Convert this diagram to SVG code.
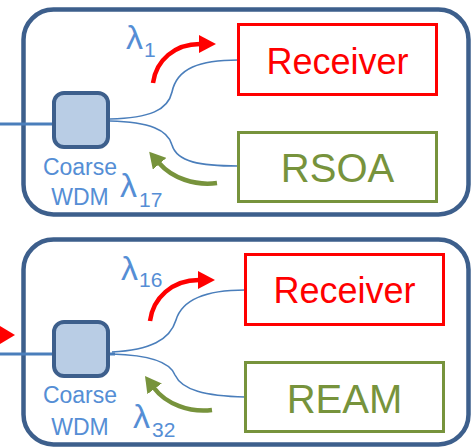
<svg xmlns="http://www.w3.org/2000/svg" width="472" height="448" viewBox="0 0 472 448">
  <style>
    .unit { fill: none; stroke: #3d5f8c; stroke-width: 4.5; }
    .wdm { fill: #b9cde5; stroke: #3d5f8c; stroke-width: 4; }
    .rx { fill: #ffffff; stroke: #ff0000; stroke-width: 3; }
    .tx { fill: #ffffff; stroke: #77933c; stroke-width: 3; }
    .fiber { fill: none; stroke: #4a7ebb; stroke-width: 1.6; }
    .trunk { fill: none; stroke: #4a7ebb; stroke-width: 3; }
    .down { fill: none; stroke: #ff0000; stroke-width: 4.5; marker-end: url(#headRed); }
    .up { fill: none; stroke: #77933c; stroke-width: 4.5; marker-end: url(#headGreen); }
    .lbl { font-family: "Liberation Sans", Arial, sans-serif; fill: #558ed5; }
    .wl { font-size: 34px; }
    .sub { font-size: 21px; }
    .name { font-size: 23px; text-anchor: middle; }
    .rxt { font-family: "Liberation Sans", Arial, sans-serif; font-size: 36px; fill: #ff0000; text-anchor: middle; }
    .txt { font-family: "Liberation Sans", Arial, sans-serif; font-size: 40px; fill: #77933c; text-anchor: middle; }
  </style>
  <defs>
    <marker id="headRed" markerUnits="userSpaceOnUse" markerWidth="18" markerHeight="18" viewBox="0 0 18 18" refX="1" refY="9" orient="auto">
      <path d="M0,0 L17,9 L0,18 z" fill="#ff0000"/>
    </marker>
    <marker id="headGreen" markerUnits="userSpaceOnUse" markerWidth="18" markerHeight="18" viewBox="0 0 18 18" refX="1" refY="9" orient="auto">
      <path d="M0,0 L16,9 L0,18 z" fill="#77933c"/>
    </marker>
  </defs>

  <!-- enclosures -->
  <rect id="unit-top" class="unit" x="23.5" y="9.5" width="445" height="205" rx="30"/>
  <rect id="unit-bottom" class="unit" x="23.5" y="239.5" width="445" height="205" rx="30"/>

  <!-- fibers and wavelength arrows -->
  <g id="connectors">
    <path class="trunk" d="M0,124 L54,124"/>
    <path class="trunk" d="M0,354 L115,354"/>
    <polygon points="0,326 15,335 0,344" fill="#ff0000"/>

    <path class="fiber" d="M110,119 C150,118 168,110 172,92 C177,68 200,60 238,60"/>
    <path class="fiber" d="M110,121 C150,122 168,130 172,145 C177,162 200,166 238,166"/>
    <path class="fiber" d="M112,352 C150,350 170,340 176,320 C182,300 205,290 245,290"/>
    <path class="fiber" d="M112,354 C150,355 170,362 175,375 C182,390 205,396 245,397"/>

    <path class="down" d="M153,83 C156,60 175,44 200,44"/>
    <path class="down" d="M150,321 C153,298 172,280 199,280"/>
    <path class="up" d="M217,183 C195,186 172,178 159,163"/>
    <path class="up" d="M212,410 C190,413 166,404 154,388"/>
  </g>

  <!-- top unit -->
  <g id="wdm-top">
    <rect class="wdm" x="54" y="93" width="54" height="54" rx="10"/>
    <text class="lbl name" x="80" y="175">Coarse</text>
    <text class="lbl name" x="80" y="205">WDM</text>
  </g>
  <g id="receiver-top">
    <rect class="rx" x="238.5" y="24.5" width="198" height="70"/>
    <text class="rxt" x="337.5" y="74">Receiver</text>
  </g>
  <g id="rsoa">
    <rect class="tx" x="238.5" y="132.5" width="198" height="69"/>
    <text class="txt" x="337.5" y="182">RSOA</text>
  </g>
  <g id="lambda-1">
    <text class="lbl wl" x="126" y="49">λ</text>
    <text class="lbl sub" x="144" y="57">1</text>
  </g>
  <g id="lambda-17">
    <text class="lbl wl" x="120" y="197">λ</text>
    <text class="lbl sub" x="139" y="207">17</text>
  </g>

  <!-- bottom unit -->
  <g id="wdm-bottom">
    <rect class="wdm" x="54" y="322" width="54" height="54" rx="10"/>
    <text class="lbl name" x="80" y="403">Coarse</text>
    <text class="lbl name" x="80" y="435">WDM</text>
  </g>
  <g id="receiver-bottom">
    <rect class="rx" x="245.5" y="254.5" width="198" height="70"/>
    <text class="rxt" x="344.5" y="303">Receiver</text>
  </g>
  <g id="ream">
    <rect class="tx" x="245.5" y="362.5" width="198" height="69"/>
    <text class="txt" x="344.5" y="413">REAM</text>
  </g>
  <g id="lambda-16">
    <text class="lbl wl" x="121" y="280">λ</text>
    <text class="lbl sub" x="139" y="287">16</text>
  </g>
  <g id="lambda-32">
    <text class="lbl wl" x="133" y="428">λ</text>
    <text class="lbl sub" x="152" y="437">32</text>
  </g>
</svg>
